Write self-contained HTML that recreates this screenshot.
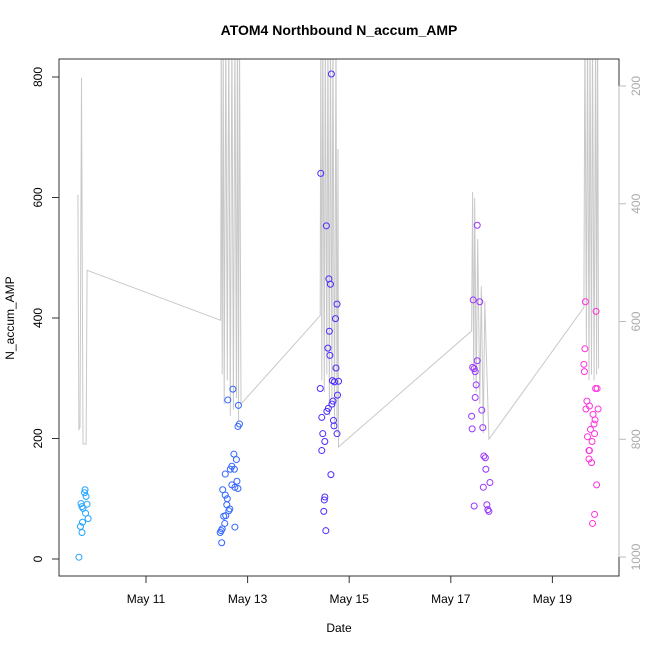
<!DOCTYPE html>
<html><head><meta charset="utf-8"><style>
html,body{margin:0;padding:0;background:#fff;}
svg{display:block;font-family:"Liberation Sans",Arial,sans-serif;}
</style></head><body>
<svg id="chart" width="650" height="650" viewBox="0 0 650 650">
<text x="339" y="35" text-anchor="middle" font-size="14" font-weight="bold">ATOM4 Northbound N_accum_AMP</text>
<text x="339" y="632" text-anchor="middle" font-size="12">Date</text>
<text transform="translate(14,318) rotate(-90)" text-anchor="middle" font-size="12">N_accum_AMP</text>
<g id="plot"></g>
</svg>
<script>
// categories: day offsets relative to May 11 00:00
const xTickLabels = ["May 11","May 13","May 15","May 17","May 19"];
const xTickDays = [0,2,4,6,8];
const yTicks = [0,200,400,600,800];
const rTicks = [200,400,600,800,1000];
const groupColors = ["#22a4ff","#3366ff","#4a2cff","#9a35ff","#ff33dd"];
const g1 = [[-1.32,3],[-1.20,115],[-1.21,110],[-1.18,104],[-1.28,92],[-1.16,91],[-1.26,87],[-1.24,84],[-1.19,76],[-1.14,67],[-1.25,61],[-1.29,54],[-1.26,44]];
const g2 = [[1.71,282],[1.61,264],[1.82,255],[1.84,224],[1.81,220],[1.73,174],[1.78,165],[1.69,154],[1.66,149],[1.74,149],[1.56,141],[1.79,129],[1.69,123],[1.75,119],[1.81,117],[1.51,115],[1.56,106],[1.60,100],[1.59,90],[1.65,83],[1.63,80],[1.53,71],[1.57,72],[1.55,59],[1.75,53],[1.50,50],[1.48,47],[1.46,44],[1.49,27]];
const g3 = [[3.65,805],[3.44,640],[3.55,553],[3.60,465],[3.63,456],[3.76,423],[3.73,399],[3.61,378],[3.58,350],[3.62,338],[3.74,317],[3.43,283],[3.67,296],[3.71,294],[3.79,295],[3.77,272],[3.68,262],[3.66,257],[3.59,250],[3.56,245],[3.46,235],[3.69,230],[3.70,221],[3.76,208],[3.48,208],[3.52,195],[3.46,180],[3.64,140],[3.52,103],[3.51,98],[3.50,79],[3.54,47]];
const g4 = [[6.52,554],[6.44,430],[6.57,427],[6.52,329],[6.43,318],[6.46,316],[6.48,311],[6.50,289],[6.48,268],[6.61,247],[6.41,237],[6.42,216],[6.63,218],[6.65,171],[6.68,168],[6.69,149],[6.77,127],[6.64,119],[6.46,88],[6.71,90],[6.73,82],[6.75,79]];
const g5 = [[8.65,427],[8.86,411],[8.64,349],[8.62,323],[8.63,311],[8.85,283],[8.88,283],[8.68,262],[8.66,249],[8.73,254],[8.90,249],[8.80,240],[8.84,231],[8.82,224],[8.75,215],[8.83,208],[8.69,203],[8.78,195],[8.72,180],[8.73,180],[8.72,166],[8.77,160],[8.87,123],[8.83,74],[8.79,59]];
const depth = [[-1.34,385],[-1.32,783],[-1.30,780],[-1.27,186],[-1.24,808],[-1.18,808],[-1.16,513],
[1.47,598],[1.48,100],[1.50,690],[1.52,100],[1.54,740],[1.57,100],[1.60,700],[1.63,100],[1.66,760],[1.69,100],[1.72,750],[1.75,100],[1.78,730],[1.80,100],[1.82,770],[1.84,100],[1.87,740],
[3.43,590],[3.44,100],[3.46,700],[3.48,100],[3.51,720],[3.53,100],[3.56,690],[3.58,100],[3.61,760],[3.63,100],[3.66,730],[3.68,100],[3.71,780],[3.74,100],[3.76,790],[3.78,307],[3.79,813],
[6.41,616],[6.43,380],[6.45,700],[6.47,390],[6.50,720],[6.53,460],[6.57,740],[6.60,540],[6.64,790],[6.67,566],[6.75,800],
[8.62,576],[8.64,100],[8.67,640],[8.69,100],[8.72,700],[8.74,100],[8.77,690],[8.79,100],[8.82,700],[8.85,100],[8.87,690],[8.89,100],[8.91,680]];

const L=59,R=619,T=59,B=576;
const xs = d => 146 + d*50.8;
const ys = v => 559 - v*0.6025;
const yr = v => 86 + (v-200)*0.5888;
const NS="http://www.w3.org/2000/svg";
const plot=document.getElementById('plot');
function mk(tag,attrs,parent){const e=document.createElementNS(NS,tag);for(const k in attrs)e.setAttribute(k,attrs[k]);(parent||plot).appendChild(e);return e;}

const defs=mk('defs',{});
const cp=mk('clipPath',{id:'clip'},defs);
mk('rect',{x:L,y:T,width:R-L,height:B-T},cp);

const dl=mk('polyline',{points:depth.map(p=>xs(p[0]).toFixed(1)+','+yr(p[1]).toFixed(1)).join(' '),fill:'none',stroke:'#c8c8c8','stroke-width':1,'clip-path':'url(#clip)'});



[g1,g2,g3,g4,g5].forEach((g,gi)=>{
  g.forEach(p=>{
    const c=mk('circle',{cx:xs(p[0]),cy:ys(p[1]),r:3,fill:'none',stroke:groupColors[gi],'stroke-width':1});
    
    
  });
});

const box=mk('rect',{x:L,y:T,width:R-L,height:B-T,fill:'none',stroke:'#333','stroke-width':1});



xTickDays.forEach((d,i)=>{
  const t=mk('line',{x1:xs(d),x2:xs(d),y1:B,y2:B+7,stroke:'#333'});
  
  
  const tx=mk('text',{x:xs(d),y:603,'text-anchor':'middle','font-size':12});
  tx.textContent=xTickLabels[i];
  
  
});
yTicks.forEach(v=>{
  const t=mk('line',{x1:L-7,x2:L,y1:ys(v),y2:ys(v),stroke:'#333'});
  
  
  const tx=mk('text',{transform:`translate(42,${ys(v)}) rotate(-90)`,'text-anchor':'middle','font-size':12});
  tx.textContent=v;
  
  
});
rTicks.forEach(v=>{
  const t=mk('line',{x1:R,x2:R+7,y1:yr(v),y2:yr(v),stroke:'#bbb'});
  
  
  const tx=mk('text',{transform:`translate(640,${yr(v)}) rotate(-90)`,'text-anchor':'middle','font-size':12,fill:'#aaa'});
  tx.textContent=v;
  
  
});
const ra=mk('line',{x1:R,x2:R,y1:yr(200),y2:yr(1000),stroke:'#bbb'});


</script>
</body></html>
